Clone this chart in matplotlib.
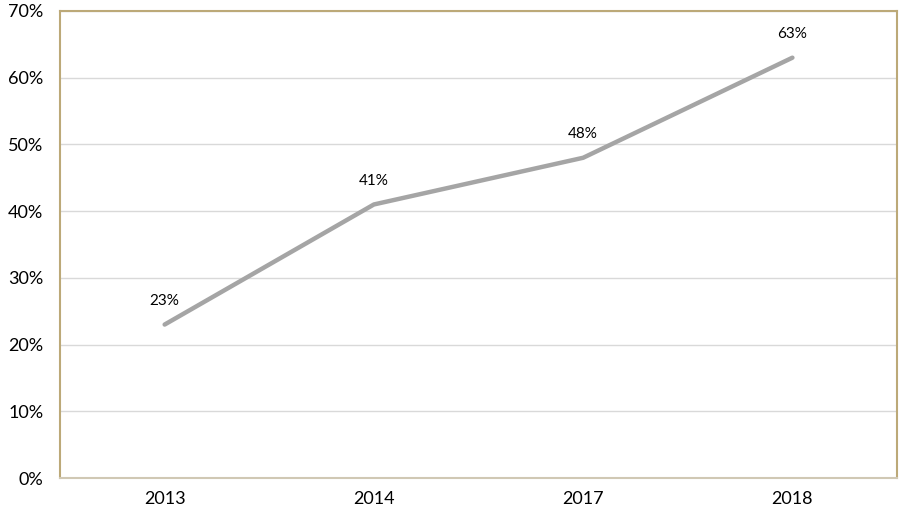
import matplotlib.pyplot as plt
from matplotlib.ticker import PercentFormatter

plt.rcParams['font.family'] = ['Lato', 'DejaVu Sans']

years = ['2013', '2014', '2017', '2018']
share = [23, 41, 48, 63]
yticks = [0, 10, 20, 30, 40, 50, 60, 70]

fig = plt.figure(figsize=(9.12, 5.13), dpi=100)
ax = fig.add_axes([0.0658, 0.0682, 0.9178, 0.9104])

x = list(range(len(years)))
ax.plot(x, share, color='#a5a5a5', linewidth=3.2, solid_capstyle='round', zorder=3)

for xi, v in zip(x, share):
    ax.annotate(f'{v}%', (xi, v), xytext=(0, 12), textcoords='offset points',
                ha='center', va='bottom', fontsize=11, color='#000000')

ax.set_xlim(-0.5, 3.5)
ax.set_ylim(0, 70)
ax.set_xticks(x)
ax.set_xticklabels(years)
ax.set_yticks(yticks)
ax.yaxis.set_major_formatter(PercentFormatter(decimals=0))
ax.tick_params(axis='both', length=0, labelsize=13, colors='#000000')
ax.tick_params(axis='x', pad=9)
ax.tick_params(axis='y', pad=12)

ax.grid(axis='y', color='#d9d9d9', linewidth=1)
ax.set_axisbelow(True)

for side in ['top', 'left', 'right']:
    ax.spines[side].set_color('#bca978')
    ax.spines[side].set_linewidth(1.5)
ax.spines['bottom'].set_color('#d0c8b4')
ax.spines['bottom'].set_linewidth(1.5)

fig.savefig('out.png', dpi=100)
